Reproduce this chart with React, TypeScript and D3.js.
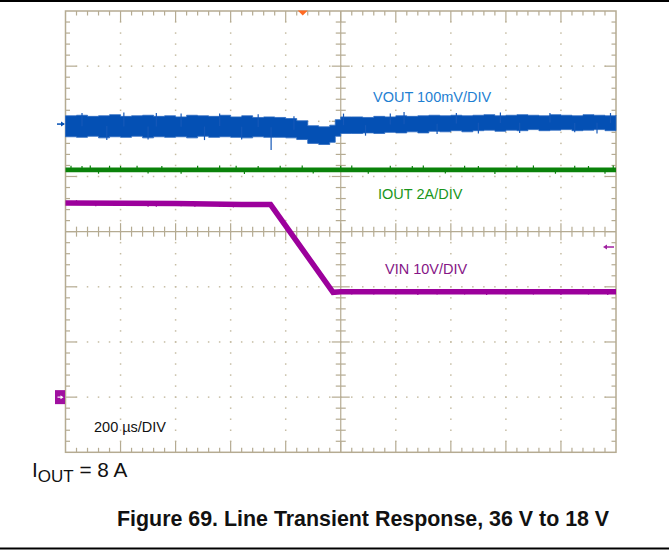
import React from 'react';
import * as d3 from 'd3';

const W = 669;
const H = 550;

// Scope settings
const TIME_SPAN_US = [0, 2000]; // 200 µs/DIV x 10
const DIV_RANGE = [-4, 4]; // 8 vertical divisions
const H_DIVS = 10;
const V_DIVS = 8;
const MINOR_PER_DIV = 5;

// Channel offsets (divisions from centre) and scales (units per division)
const VOUT_OFFSET_DIV = 1.95;
const VOUT_PER_DIV = 100; // mV
const IOUT_OFFSET_DIV = -2.88;
const IOUT_PER_DIV = 2; // A
const VIN_OFFSET_DIV = -3.0;
const VIN_PER_DIV = 10; // V
const TRIGGER_TIME_US = 862;

// VOUT envelope (mV relative to channel marker)
const voutTime = [0, 40, 80, 120, 160, 200, 240, 280, 320, 360, 400, 440, 480, 520, 560, 600, 640, 680, 720, 760, 800, 840, 880, 920, 960, 980, 1000, 1040, 1080, 1120, 1160, 1200, 1240, 1280, 1320, 1360, 1400, 1440, 1480, 1520, 1560, 1600, 1640, 1680, 1720, 1760, 1800, 1840, 1880, 1920, 1960, 2000];
const voutTop = [15, 16, 14, 15, 17, 14, 15, 16, 14, 15, 13, 16, 15, 14, 16, 13, 15, 12, 13, 12, 10, 6, -3, -5, -2, 8, 13, 13, 12, 14, 13, 15, 14, 15, 16, 15, 16, 15, 16, 17, 15, 16, 17, 16, 15, 17, 16, 15, 17, 16, 15, 16];
const voutBottom = [-23, -24, -22, -25, -23, -24, -22, -25, -23, -24, -23, -25, -22, -24, -23, -24, -25, -23, -24, -24, -25, -28, -35, -37, -33, -22, -17, -17, -16, -17, -15, -16, -14, -16, -13, -14, -12, -14, -12, -11, -13, -11, -12, -10, -12, -11, -10, -12, -11, -10, -12, -11];
const voutSpikes: [number, number][] = [[60, 20], [150, -29], [212, 21], [300, -28], [330, 20], [420, 19], [505, -29], [560, 19], [640, -28], [700, 18], [747, -47], [830, 14], [1010, 19], [1090, -21], [1180, 19], [1230, 22], [1350, -18], [1420, 20], [1500, -17], [1580, 21], [1650, -16], [1760, 20], [1850, -15], [1931, -17], [1980, 20]];

// IOUT (A)
const ioutTime = [0, 2000];
const ioutLevel = [8.0, 8.0];
const ioutSpikes: [number, number][] = [[20, 8.15], [60, 8.14], [90, 8.16], [120, 7.86], [160, 8.15], [200, 8.14], [260, 8.15], [300, 7.87], [350, 8.14], [420, 7.86], [480, 8.15], [560, 8.16], [620, 8.15], [650, 7.85], [700, 8.14], [780, 8.15], [860, 8.16], [900, 7.87], [1000, 8.15], [1040, 8.16], [1100, 7.86], [1180, 8.15], [1260, 8.14], [1300, 8.16], [1380, 7.87], [1450, 8.15], [1500, 8.14], [1560, 7.85], [1640, 8.15], [1700, 8.16], [1780, 7.86], [1850, 8.15], [1900, 8.14], [1960, 7.86], [1990, 8.16]];

// VIN (V)
const vinTime = [0, 400, 640, 745, 972, 1000, 2000];
const vinLevel = [35.2, 35.1, 34.9, 34.9, 19.0, 19.1, 19.1];
const vinSpikes: [number, number][] = [[40, 35.7], [110, 34.6], [300, 34.5], [330, 34.5], [420, 34.6], [470, 34.5], [560, 34.5], [610, 34.4], [1040, 18.6], [1120, 18.6], [1200, 18.6], [1280, 18.5], [1350, 18.6], [1450, 18.6], [1530, 18.5], [1600, 18.6], [1700, 18.6], [1800, 18.5], [1900, 18.6], [1970, 18.5]];

// Labels
const labelVout = 'VOUT 100mV/DIV';
const labelIout = 'IOUT 2A/DIV';
const labelVin = 'VIN 10V/DIV';
const labelTime = '200 \u00b5s/DIV';
const captionTitle = 'Figure 69. Line Transient Response, 36 V to 18 V';

const FONT = 'Liberation Sans, Arial, Helvetica, sans-serif';
const GRID = '#b5ab92';
const DOT = '#c6bda4';

export default function App() {
  const x = d3.scaleLinear().domain(TIME_SPAN_US).range([65.5, 616]);
  const y = d3.scaleLinear().domain(DIV_RANGE).range([452.3, 11]);
  const yV = (mv: number) => y(VOUT_OFFSET_DIV + mv / VOUT_PER_DIV);
  const yI = (a: number) => y(IOUT_OFFSET_DIV + a / IOUT_PER_DIV);
  const yN = (v: number) => y(VIN_OFFSET_DIV + v / VIN_PER_DIV);

  const voutArea = d3
    .area<number>()
    .x((_, i) => x(voutTime[i]))
    .y0((_, i) => yV(voutBottom[i]))
    .y1((_, i) => yV(voutTop[i]))
    .curve(d3.curveStepAfter)(voutTime) as string;

  const ioutLine = d3
    .line<number>()
    .x((_, i) => x(ioutTime[i]))
    .y((_, i) => yI(ioutLevel[i]))(ioutTime) as string;

  const vinLine = d3
    .line<number>()
    .x((_, i) => x(vinTime[i]))
    .y((_, i) => yN(vinLevel[i]))(vinTime) as string;

  const interp = (ts: number[], vs: number[], t: number) => {
    for (let i = 0; i < ts.length - 1; i++) {
      if (t >= ts[i] && t <= ts[i + 1]) {
        const f = (t - ts[i]) / (ts[i + 1] - ts[i]);
        return vs[i] + f * (vs[i + 1] - vs[i]);
      }
    }
    return vs[vs.length - 1];
  };

  const [t0, t1] = TIME_SPAN_US;
  const minorT = (t1 - t0) / (H_DIVS * MINOR_PER_DIV);
  const minorD = (DIV_RANGE[1] - DIV_RANGE[0]) / (V_DIVS * MINOR_PER_DIV);
  const xCenter = x((t0 + t1) / 2);
  const yCenter = y(0);
  const xL = x(t0), xR = x(t1), yT = y(DIV_RANGE[1]), yB = y(DIV_RANGE[0]);

  const gridEls: React.ReactNode[] = [];
  for (let i = 1; i < H_DIVS * MINOR_PER_DIV; i++) {
    const xx = x(t0 + i * minorT);
    const major = i % MINOR_PER_DIV === 0;
    const len = major ? 11 : 4.5;
    gridEls.push(<line key={`tt${i}`} x1={xx} x2={xx} y1={yT} y2={yT + len} />);
    gridEls.push(<line key={`tb${i}`} x1={xx} x2={xx} y1={yB} y2={yB - len} />);
    const c = major ? 8.5 : 5;
    gridEls.push(<line key={`tc${i}`} x1={xx} x2={xx} y1={yCenter - c} y2={yCenter + c} />);
  }
  for (let j = 1; j < V_DIVS * MINOR_PER_DIV; j++) {
    const yy = y(DIV_RANGE[0] + j * minorD);
    const major = j % MINOR_PER_DIV === 0;
    const len = major ? 11 : 4.5;
    gridEls.push(<line key={`tl${j}`} y1={yy} y2={yy} x1={xL} x2={xL + len} />);
    gridEls.push(<line key={`tr${j}`} y1={yy} y2={yy} x1={xR} x2={xR - len} />);
    const c = major ? 9 : 5;
    gridEls.push(<line key={`tv${j}`} y1={yy} y2={yy} x1={xCenter - c} x2={xCenter + c} />);
  }

  const dots: React.ReactNode[] = [];
  for (let k = 1; k < H_DIVS; k++) {
    if (k === H_DIVS / 2) continue;
    const xx = x(t0 + k * minorT * MINOR_PER_DIV);
    for (let j = 1; j < V_DIVS * MINOR_PER_DIV; j++) {
      const yy = y(DIV_RANGE[0] + j * minorD);
      dots.push(<rect key={`dv${k}-${j}`} x={xx - 0.75} y={yy - 0.75} width={1.5} height={1.5} />);
    }
  }
  for (let m = 1; m < V_DIVS; m++) {
    if (m === V_DIVS / 2) continue;
    const yy = y(DIV_RANGE[0] + m * minorD * MINOR_PER_DIV);
    for (let i = 1; i < H_DIVS * MINOR_PER_DIV; i++) {
      const xx = x(t0 + i * minorT);
      dots.push(<rect key={`dh${m}-${i}`} x={xx - 0.75} y={yy - 0.75} width={1.5} height={1.5} />);
    }
  }

  const trigX = x(TRIGGER_TIME_US);

  return (
    <svg width={W} height={H} style={{ position: 'absolute', left: 0, top: 0, background: '#fff' }}>
      <line x1={0} x2={W} y1={1} y2={1} stroke="#000" strokeWidth={2} />
      <line x1={0} x2={W} y1={548.5} y2={548.5} stroke="#000" strokeWidth={2} />

      <g fill={DOT}>{dots}</g>
      <g stroke={GRID} strokeWidth={1.2}>
        {gridEls}
        <line x1={xL} x2={xR} y1={yCenter} y2={yCenter} />
        <line x1={xCenter} x2={xCenter} y1={yT} y2={yB} />
      </g>
      <rect x={xL} y={yT} width={xR - xL} height={yB - yT} fill="none" stroke={GRID} strokeWidth={1.5} />

      {/* VIN */}
      <path d={vinLine} fill="none" stroke="#9c009c" strokeWidth={5.5} strokeLinejoin="miter" />
      <g stroke="#9c009c" strokeWidth={1.2}>
        {vinSpikes.map(([t, v], i) => (
          <line key={i} x1={x(t)} x2={x(t)} y1={yN(interp(vinTime, vinLevel, t))} y2={yN(v)} />
        ))}
      </g>

      {/* IOUT */}
      <path d={ioutLine} fill="none" stroke="#0a820a" strokeWidth={4.6} />
      <g stroke="#0a820a" strokeWidth={1.2}>
        {ioutSpikes.map(([t, a], i) => (
          <line key={i} x1={x(t)} x2={x(t)} y1={yI(8)} y2={yI(a)} />
        ))}
      </g>

      {/* VOUT */}
      <path d={voutArea} fill="#0450b4" stroke="#2a68c0" strokeWidth={0.8} />
      <g stroke="#1558b8" strokeWidth={1.2}>
        {voutSpikes.map(([t, mv], i) => {
          const top = interp(voutTime, voutTop, t);
          const bot = interp(voutTime, voutBottom, t);
          return <line key={i} x1={x(t)} x2={x(t)} y1={yV((top + bot) / 2)} y2={yV(mv)} />;
        })}
      </g>

      {/* markers */}
      <path d={`M${trigX - 5},${yT - 0.5} L${trigX + 5},${yT - 0.5} L${trigX},${yT + 4.5} Z`} fill="#ff6a22" />
      <g stroke="#0450b4" fill="#0450b4">
        <line x1={57} x2={64} y1={yV(0)} y2={yV(0)} strokeWidth={1.5} />
        <path d={`M65,${yV(0)} L61,${yV(0) - 2.5} L61,${yV(0) + 2.5} Z`} stroke="none" />
      </g>
      <rect x={55} y={yN(0) - 7} width={10} height={14} fill="#a010a0" />
      <g stroke="#fff" fill="#fff">
        <line x1={57.5} x2={62} y1={yN(0)} y2={yN(0)} strokeWidth={1.2} />
        <path d={`M63.5,${yN(0)} L60.5,${yN(0) - 2} L60.5,${yN(0) + 2} Z`} stroke="none" />
      </g>
      <g stroke="#a020a0" fill="#a020a0">
        <line x1={606} x2={614} y1={247} y2={247} strokeWidth={1.5} />
        <path d={`M603,247 L607,244.5 L607,249.5 Z`} stroke="none" />
      </g>

      {/* labels */}
      <g fontFamily={FONT} fontSize={14.5}>
        <text x={373} y={101.7} fill="#1f7fd2">{labelVout}</text>
        <text x={378} y={198.8} fill="#1a961a">{labelIout}</text>
        <text x={385} y={273.8} fill="#861586">{labelVin}</text>
        <text x={94} y={431.7} fill="#111">{labelTime}</text>
      </g>
      <text x={32} y={477.3} fontFamily={FONT} fontSize={20.8} fill="#111">
        I<tspan fontSize={17} dy={4.4}>OUT</tspan>
        <tspan dy={-4.4}> = 8 A</tspan>
      </text>
      <text x={117} y={526} fontFamily={FONT} fontSize={21.4} fontWeight="bold" fill="#111">{captionTitle}</text>
    </svg>
  );
}
